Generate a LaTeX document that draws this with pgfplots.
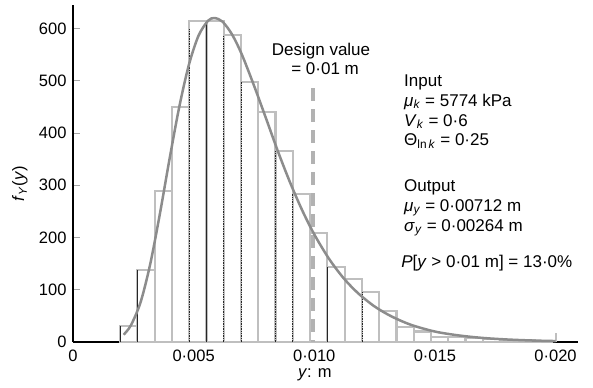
\documentclass[border=0pt]{standalone}
\usepackage{fontspec}
\setmainfont{Liberation Sans}
\usepackage{pgfplots}
\pgfplotsset{compat=1.18}
\begin{document}
\begin{tikzpicture}
\useasboundingbox (-73bp,-46bp) rectangle (520bp,342bp);
\begin{axis}[
  at={(0,0)}, anchor=south west,
  scale only axis, width=505bp, height=337bp,
  xmin=0, xmax=0.02093, ymin=0, ymax=645,
  axis x line*=bottom, axis y line*=left,
  axis line style={black, line width=1.3bp, -},
  xtick={0,0.005,0.01,0.015,0.02},
  xticklabels={0,0·005,0·010,0·015,0·020},
  ytick={0,100,...,600},
  scaled x ticks=false,
  tick align=inside,
  x tick style={draw=none},
  y tick style={gray!70, line width=1bp},
  major tick length=7bp,
  tick label style={font=\fontsize{16.5bp}{19bp}\selectfont},
  /pgf/number format/assume math mode=true,
  xticklabel style={yshift=-4.5bp},
  yticklabel style={xshift=-3bp},
  xlabel={\textit{y}: m},
  ylabel={\textit{f}\textsubscript{\textit{Y}}(\textit{y})},
  label style={font=\fontsize{16.5bp}{19bp}\selectfont},
  xlabel style={at={(axis description cs:0.479,-0.098)}, anchor=center},
  ylabel style={at={(axis description cs:-0.105,0.47)}, anchor=center},
  clip=false,
]
% histogram (left bin edges, heights); last point closes the final bin
\addplot[ybar interval, fill=none, draw=gray!50, line width=2.2bp] coordinates {
(0.001950,31) (0.002666,138) (0.003382,289) (0.004098,450) (0.004814,615)
(0.005530,615) (0.006246,587) (0.006962,498) (0.007678,440) (0.008394,365)
(0.009110,284) (0.009826,208) (0.010542,143) (0.011258,120) (0.011974,95)
(0.012690,60) (0.013406,29) (0.014122,20) (0.014838,10) (0.015554,9)
(0.016270,7) (0.016986,5) (0.017702,4) (0.018418,3) (0.019134,2)
(0.019850,0)
};
% black plate edges
\addplot[ycomb, black!85, line width=0.6bp, mark=none] coordinates {
(0.001950,31) (0.002666,138) (0.005530,612) (0.010542,143)
};
\addplot[ycomb, black!85, densely dotted, line width=0.7bp, mark=none] coordinates {
(0.004814,600) (0.006246,587) (0.006962,498) (0.008394,365) (0.009110,284) (0.011974,95)
};
% small mark near 0.020
\addplot[ycomb, gray!50, line width=2bp, mark=none] coordinates {(0.0200,18)};
% design value line
\addplot[gray!60, line width=3.5bp, dash pattern=on 13bp off 8bp] coordinates {(0.00995,486) (0.00995,0)};
% fitted density curve
\addplot[black!45, line width=2.5bp, smooth, mark=none] coordinates {
(0.0021,14) (0.0024,32) (0.0028,76) (0.0032,149) (0.0036,245) (0.0040,350)
(0.0044,449) (0.0048,530) (0.0052,586) (0.0056,615) (0.00587,620) (0.0062,613)
(0.0066,588) (0.0070,550) (0.0075,491) (0.0080,428) (0.0085,364) (0.0090,305)
(0.0095,252) (0.0100,206) (0.0106,160) (0.0112,123) (0.0118,94) (0.0125,68)
(0.0132,49) (0.0140,33) (0.0150,20) (0.0160,12.5) (0.0170,7.7) (0.0180,4.8)
(0.0190,2.9) (0.0200,1.8)
};
\begin{scope}[every node/.style={font=\fontsize{17bp}{20bp}\selectfont, inner sep=0pt}]
\node[anchor=base] at (axis cs:0.01028,548.8) {Design value};
\node[anchor=base] at (axis cs:0.01045,512.4) {= 0·01 m};
\node[anchor=base west] at (axis cs:0.01372,489.5) {Input};
\node[anchor=base west] at (axis cs:0.01372,451.2) {\textit{μ}\textsubscript{\textit{k}} = 5774 kPa};
\node[anchor=base west] at (axis cs:0.01372,413.0) {\textit{V}\textsubscript{\textit{k}} = 0·6};
\node[anchor=base west] at (axis cs:0.01372,375.3) {Θ\textsubscript{ln\,\textit{k}} = 0·25};
\node[anchor=base west] at (axis cs:0.01372,287.4) {Output};
\node[anchor=base west] at (axis cs:0.01372,250.5) {\textit{μ}\textsubscript{\textit{y}} = 0·00712 m};
\node[anchor=base west] at (axis cs:0.01372,212.2) {\textit{σ}\textsubscript{\textit{y}} = 0·00264 m};
\node[anchor=base west] at (axis cs:0.01360,142.8) {\textit{P}[\textit{y} > 0·01 m] = 13·0\%};
\end{scope}
\end{axis}
\end{tikzpicture}
\end{document}
